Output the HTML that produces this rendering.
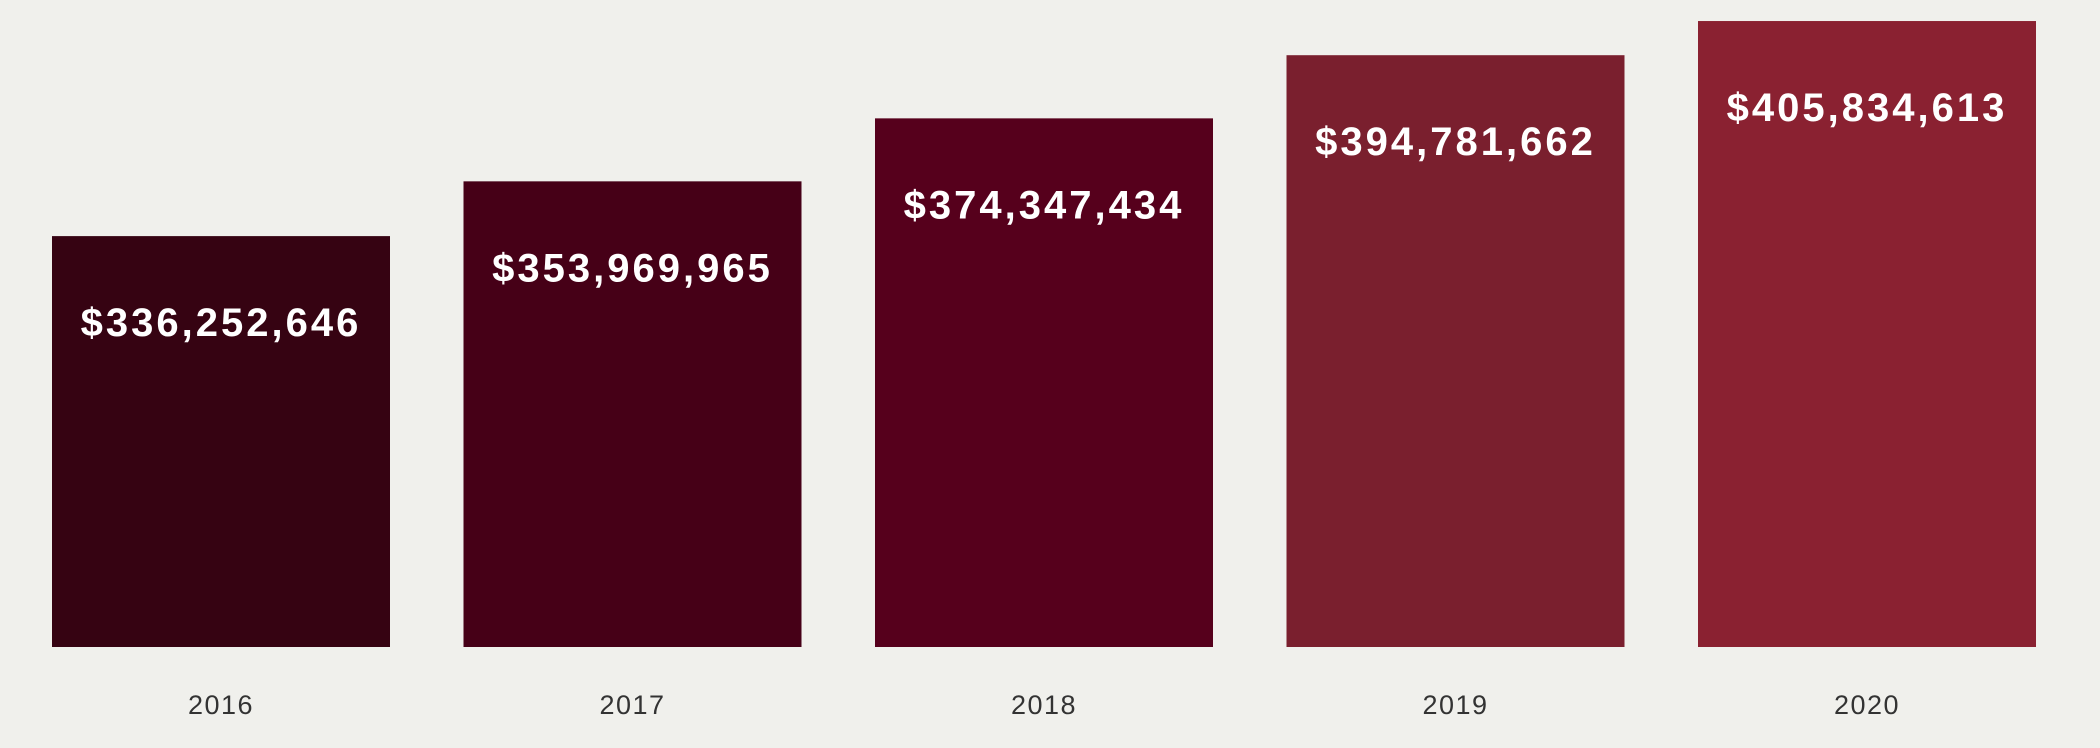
<!DOCTYPE html>
<html><head><meta charset="utf-8">
<style>
html,body{margin:0;padding:0;background:#f0f0ec;width:2100px;height:748px;overflow:hidden}
svg{display:block}
.val{font-family:"Liberation Sans",sans-serif;font-weight:bold;font-size:40px;fill:#fff;letter-spacing:3px}
.yr{font-family:"Liberation Sans",sans-serif;font-size:27px;fill:#333;letter-spacing:1.5px}
</style></head>
<body>
<svg id="chart" width="2100" height="748" viewBox="0 0 2100 748">
<rect width="2100" height="748" fill="#f0f0ec"/>
</svg>
<script>
const years = ["2016","2017","2018","2019","2020"];
const values = [336252646, 353969965, 374347434, 394781662, 405834613];
const labels = ["$336,252,646","$353,969,965","$374,347,434","$394,781,662","$405,834,613"];
const colors = ["#360312","#460017","#56001c","#7a1f2e","#8a2131"];

const svg = document.getElementById('chart');
const NS = 'http://www.w3.org/2000/svg';
const baseY = 647;
const bandStart = 52, bandStep = 411.5, barW = 338;
function xPos(i){ return bandStart + i*bandStep; }
function hScale(v){ return 524.6 + 3.091*(v/1e6 - 373.04); }

years.forEach((yr,i)=>{
  const h = hScale(values[i]);
  const x = xPos(i);
  const top = baseY - h;
  const r = document.createElementNS(NS,'rect');
  r.setAttribute('x',x); r.setAttribute('y',top);
  r.setAttribute('width',barW); r.setAttribute('height',h);
  r.setAttribute('fill',colors[i]);
  
  
  svg.appendChild(r);
  const t = document.createElementNS(NS,'text');
  t.setAttribute('x',x+barW/2); t.setAttribute('y',top+100);
  t.setAttribute('text-anchor','middle'); t.setAttribute('class','val');
  t.textContent = labels[i];
  
  
  svg.appendChild(t);
  const yl = document.createElementNS(NS,'text');
  yl.setAttribute('x',x+barW/2); yl.setAttribute('y',714);
  yl.setAttribute('text-anchor','middle'); yl.setAttribute('class','yr');
  yl.textContent = yr;
  
  
  svg.appendChild(yl);
});
</script>
</body></html>
